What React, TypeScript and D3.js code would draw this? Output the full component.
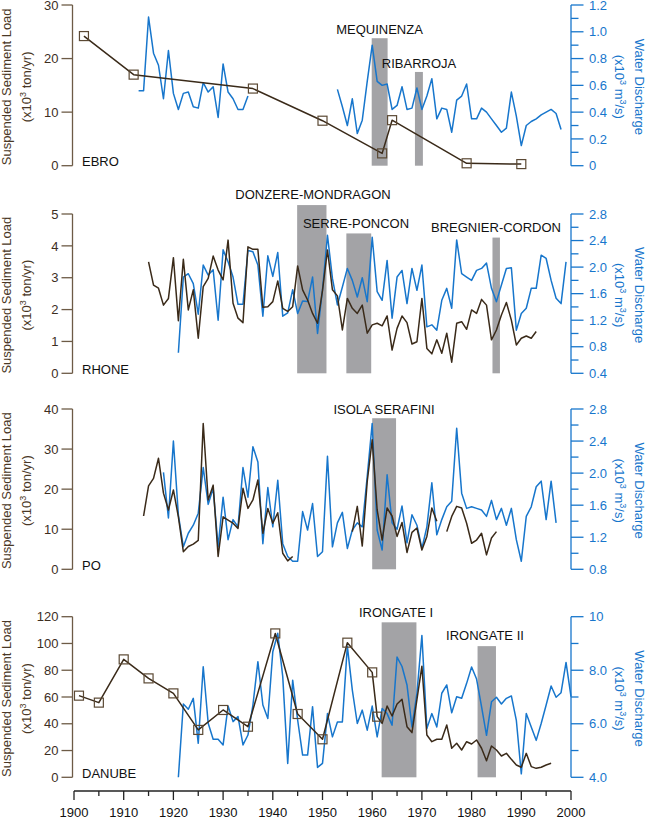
import * as d3 from "d3";

type Pt = { year: number; value: number | null };

// ---- EBRO ----
const ebroLoadYears = [1902, 1912, 1936, 1950, 1962, 1964, 1979, 1990];
const ebroLoad = [24.2, 17.0, 14.4, 8.4, 2.3, 8.5, 0.45, 0.3];
const ebroFlowEarly = [
  0.56, 0.56, 1.11, 0.84, 0.75, 0.5, 0.86, 0.54, 0.42, 0.54, 0.55, 0.44, 0.43, 0.62, 0.55, 0.59, 0.36, 0.76,
  0.55, 0.5, 0.42, 0.42, 0.52,
]; // 1913-1935
const ebroFlowLate = [
  0.57, 0.44, 0.3, 0.5, 0.24, 0.34, 0.63, 0.9, 0.63, 0.6, 0.61, 0.42, 0.45, 0.59, 0.42, 0.43, 0.58, 0.42, 0.52,
  0.65, 0.35, 0.43, 0.42, 0.25, 0.49, 0.52, 0.61, 0.35, 0.35, 0.43, 0.4, 0.35, 0.3, 0.25, 0.28, 0.55, 0.37, 0.15,
  0.3, 0.33, 0.35, 0.38, 0.4, 0.42, 0.39, 0.27,
]; // 1953-1998
const ebroDams = ["MEQUINENZA", "RIBARROJA"];
const ebroDamFrom = [1959.9, 1968.6];
const ebroDamTo = [1963.1, 1970.2];
const ebroDamTop = [23.8, 17.5];

// ---- RHONE ----
const rhoneLoad = [
  3.5, 2.77, 2.67, 2.14, 2.35, 3.63, 1.65, 3.58, 1.99, 2.62,
  1.1, 2.72, 2.98, 3.68, 3.24, 2.93, 4.18, 2.2, 1.73, 1.59,
  3.97, 3.89, 3.89, 2.07, 2.09, 2.25, 2.9, 2.04, 1.94, 2.09,
  3.37, 2.62, 2.3, 1.88, 1.57, 2.6, 3.87, 2.62, 2.43, 1.36,
  2.35, 2.04, 1.88, 2.14, 1.26, 1.52, 1.57, 1.49, 1.8, 0.73,
  1.41, 1.8, 1.59, 0.92, 0.99, 2.35, 0.78, 0.61, 1.05, 0.63,
  1.26, 0.35, 1.57, 1.62, 1.38, 1.99, 1.88, 2.32, 2.14, 1.05,
  1.36, 1.83, 2.22, 1.67, 0.89, 1.1, 1.17, 1.1, 1.31,
]; // 1915-1993
const rhoneFlow = [
  0.71, 1.85, 1.9, 1.75, 1.29, 2.03, 1.88, 1.96, 1.2, 2.26,
  2.08, 1.85, 1.44, 1.44, 2.25, 2.23, 2.03, 1.26, 2.17, 1.86,
  2.22, 1.26, 1.31, 1.66, 1.3, 1.49, 1.48, 1.85, 1.0, 1.66,
  2.48, 1.83, 1.43, 1.7, 1.98, 1.8, 1.55, 1.84, 1.48, 2.45,
  1.63, 1.5, 2.1, 1.23, 1.85, 1.95, 1.45, 1.98, 1.65, 2.03,
  1.1, 1.13, 1.05, 1.5, 1.68, 1.38, 2.41, 1.9, 1.85, 1.8,
  1.95, 1.98, 2.06, 1.68, 1.48, 1.73, 1.98, 1.99, 1.05, 1.3,
  1.38, 1.68, 1.68, 2.18, 2.13, 1.8, 1.53, 1.45, 2.08,
]; // 1921-1999
const rhoneDams = ["DONZERE-MONDRAGON", "SERRE-PONCON", "BREGNIER-CORDON"];
const rhoneDamFrom = [1944.9, 1954.8, 1984.2];
const rhoneDamTo = [1950.8, 1959.8, 1985.7];
const rhoneDamTop = [5.28, 4.39, 4.26];

// ---- PO ----
const poLoad = [
  13.3, 20.8, 22.7, 27.7, 19.0, 14.8, 19.8, 13.1, 4.4, 5.7,
  6.3, 7.2, 36.4, 17.3, 21.0, 3.2, 13.1, 12.3, 11.5, 10.2,
  20.2, 15.2, 17.3, 22.3, 9.0, 15.2, 11.5, 14.1, 4.0, 2.1,
  3.2, null, null, null, null, null, null, null, null, null,
  null, null, 9.4, 15.7, 5.8, 21.9, 32.3, 14.8, 7.3, 15.3,
  13.3, 8.2, 11.7, 4.2, 9.2, 10.3, 4.8, 8.2, 15.3, 12.0,
  null, 9.4, 13.2, 15.7, 15.3, 11.5, 6.5, 7.3, 9.0, 3.6,
  7.8, 9.4,
]; // 1914-1985
const poFlow = [
  2.01, 1.44, 2.4, 1.48, 1.08, 1.25, 1.35, 1.5, 2.07, 1.61,
  1.81, 1.08, 1.7, 1.17, 1.42, 1.33, 2.07, 1.7, 2.33, 2.14,
  1.12, 1.82, 1.33, 1.91, 1.12, 0.96, 0.9, 0.9, 1.52, 1.29,
  1.62, 0.96, 1.02, 2.21, 1.08, 1.38, 1.51, 1.06, 1.29, 1.38,
  1.33, 1.96, 2.62, 1.29, 1.04, 1.98, 1.38, 1.3, 1.59, 1.13,
  1.48, 1.35, 1.06, 1.33, 1.88, 1.23, 1.42, 1.58, 1.65, 2.56,
  1.75, 1.56, 1.58, 1.56, 1.54, 1.46, 1.66, 1.42, 1.56, 1.35,
  1.56, 1.17, 0.9, 1.46, 1.58, 1.83, 1.9, 1.42, 1.9, 1.38,
]; // 1918-1997
const poDams = ["ISOLA SERAFINI"];
const poDamFrom = [1960.0];
const poDamTo = [1964.8];
const poDamTop = [37.7];

// ---- DANUBE ----
const danubeLoadYears = [1901, 1905, 1910, 1915, 1920, 1925, 1930, 1935, 1940.5, 1945, 1950, 1955, 1960, 1961];
const danubeLoad = [61.0, 55.8, 88.1, 73.9, 62.7, 35.4, 50.3, 37.8, 107.5, 47.3, 28.4, 100.6, 78.4, 45.3];
const danubeLoadAnnual = [
  40.3, 53.3, 45.8, 54.8, 58.3, 37.8, 33.4, 58.0, 83.0,
  31.6, 26.6, 28.4, 28.4, 39.1, 21.7, 25.4, 20.4, 26.6, 24.9,
  27.9, 21.7, 12.4, 23.4, 20.4, 15.9, 17.9, 13.4, 9.2, 7.5,
  17.9, 8.0, 6.7, 7.5, 9.2, 10.5,
]; // 1962-1996
const danubeFlow = [
  4.0, 6.74, 6.54, 6.95, 5.27, 8.13, 6.02, 5.42, 5.42, 5.21,
  6.66, 6.08, 6.27, 5.21, 5.58, 6.7, 8.32, 6.7, 6.2, 8.69,
  9.38, 7.76, 4.52, 7.63, 6.14, 4.83, 4.83, 6.64, 4.37, 4.52,
  6.38, 5.51, 6.07, 6.07, 8.9, 7.26, 6.01, 6.51, 5.76, 6.66,
  5.51, 6.57, 6.38, 5.95, 8.49, 8.14, 7.45, 5.88, 7.14, 9.3,
  5.82, 6.38, 5.88, 7.14, 7.45, 6.41, 7.01, 6.95, 7.51, 8.12,
  7.67, 6.64, 5.57, 6.82, 6.99, 6.74, 6.95, 7.04, 6.13, 4.13,
  6.38, 5.88, 5.38, 6.01, 6.7, 7.41, 6.99, 7.16, 8.29, 7.01,
]; // 1921-2000
const danubeDams = ["IRONGATE I", "IRONGATE II"];
const danubeDamFrom = [1961.9, 1981.2];
const danubeDamTo = [1968.9, 1984.9];
const danubeDamTop = [115.8, 98];

const yearTicks = d3.range(1900, 2001, 10);
const yearMinorTicks = d3.range(1905, 2000, 10);

const annual = (start: number, values: (number | null)[]): Pt[] =>
  values.map((value, i) => ({ year: start + i, value }));
const paired = (years: number[], values: number[]): Pt[] => years.map((year, i) => ({ year, value: values[i] }));

const FONT = "'Liberation Sans', Arial, Helvetica, sans-serif";
const BLUE = "#1776cc";
const BROWN = "#3a2a19";
const AXIS_BROWN = "#6d5b46";
const BAR = "#a3a3a6";

const x = d3.scaleLinear().domain([1900, 2000]).range([74, 571]);
const AX_L = 72.5;
const AX_R = 571;

const panels = [
  {
    name: "EBRO",
    yL: d3.scaleLinear().domain([0, 30]).range([165.7, 5]),
    yR: d3.scaleLinear().domain([0, 1.2]).range([165.7, 5]),
    leftTicks: [0, 10, 20, 30],
    rightTicks: [0, 0.2, 0.4, 0.6, 0.8, 1.0, 1.2],
    rightMinor: [0.1, 0.3, 0.5, 0.7, 0.9, 1.1],
    fmtR: (v: number) => (v === 0 ? "0" : v.toFixed(1)),
    load: [paired(ebroLoadYears, ebroLoad)],
    squares: paired(ebroLoadYears, ebroLoad),
    flow: [annual(1913, ebroFlowEarly), annual(1953, ebroFlowLate)],
    dams: ebroDams.map((n, i) => ({ n, a: ebroDamFrom[i], b: ebroDamTo[i], top: ebroDamTop[i] })),
    labelPos: [[379.5, 34], [419, 68]],
  },
  {
    name: "RHONE",
    yL: d3.scaleLinear().domain([0, 5]).range([373.3, 214]),
    yR: d3.scaleLinear().domain([0.4, 2.8]).range([373.3, 214]),
    leftTicks: [0, 1, 2, 3, 4, 5],
    rightTicks: [0.4, 0.8, 1.2, 1.6, 2.0, 2.4, 2.8],
    rightMinor: [0.6, 1.0, 1.4, 1.8, 2.2, 2.6],
    fmtR: (v: number) => v.toFixed(1),
    load: [annual(1915, rhoneLoad)],
    squares: [] as Pt[],
    flow: [annual(1921, rhoneFlow)],
    dams: rhoneDams.map((n, i) => ({ n, a: rhoneDamFrom[i], b: rhoneDamTo[i], top: rhoneDamTop[i] })),
    labelPos: [[313, 199], [356, 228], [496, 231.5]],
  },
  {
    name: "PO",
    yL: d3.scaleLinear().domain([0, 40]).range([569.3, 409]),
    yR: d3.scaleLinear().domain([0.8, 2.8]).range([569.3, 409]),
    leftTicks: [0, 10, 20, 30, 40],
    rightTicks: [0.8, 1.2, 1.6, 2.0, 2.4, 2.8],
    rightMinor: [1.0, 1.4, 1.8, 2.2, 2.6],
    fmtR: (v: number) => v.toFixed(1),
    load: [annual(1914, poLoad)],
    squares: [] as Pt[],
    flow: [annual(1918, poFlow)],
    dams: poDams.map((n, i) => ({ n, a: poDamFrom[i], b: poDamTo[i], top: poDamTop[i] })),
    labelPos: [[384, 414]],
  },
  {
    name: "DANUBE",
    yL: d3.scaleLinear().domain([0, 120]).range([777.3, 616.7]),
    yR: d3.scaleLinear().domain([4, 10]).range([777.3, 616.7]),
    leftTicks: [0, 20, 40, 60, 80, 100, 120],
    rightTicks: [4, 6, 8, 10],
    rightMinor: [5, 7, 9],
    fmtR: (v: number) => (v >= 10 ? String(v) : v.toFixed(1)),
    load: [paired(danubeLoadYears, danubeLoad).concat(annual(1962, danubeLoadAnnual))],
    squares: paired(danubeLoadYears, danubeLoad),
    flow: [annual(1921, danubeFlow)],
    dams: danubeDams.map((n, i) => ({ n, a: danubeDamFrom[i], b: danubeDamTo[i], top: danubeDamTop[i] })),
    labelPos: [[396, 616.5], [485, 640]],
  },
];

function Panel({ p }: { p: (typeof panels)[number] }) {
  const [l0, l1] = p.yL.range();
  const cy = (l0 + l1) / 2 + 1.5;
  const lineL = d3
    .line<Pt>()
    .defined((d) => d.value != null)
    .x((d) => x(d.year))
    .y((d) => p.yL(d.value as number));
  const lineR = d3
    .line<Pt>()
    .defined((d) => d.value != null)
    .x((d) => x(d.year))
    .y((d) => p.yR(d.value as number));
  return (
    <g>
      {p.dams.map((d) => (
        <rect
          key={d.n}
          x={x(d.a)}
          width={x(d.b) - x(d.a)}
          y={p.yL(d.top)}
          height={p.yL(0) - p.yL(d.top)}
          fill={BAR}
        />
      ))}
      {p.flow.map((s, i) => (
        <path key={"f" + i} d={lineR(s) ?? ""} fill="none" stroke={BLUE} strokeWidth={1.5} strokeLinejoin="round" />
      ))}
      {p.load.map((s, i) => (
        <path key={"l" + i} d={lineL(s) ?? ""} fill="none" stroke={BROWN} strokeWidth={1.5} strokeLinejoin="round" />
      ))}
      {p.squares.map((d, i) => (
        <rect
          key={"s" + i}
          x={x(d.year) - 4.5}
          y={p.yL(d.value as number) - 4.5}
          width={9}
          height={9}
          fill="none"
          stroke="#5b4934"
          strokeWidth={1.2}
        />
      ))}

      {/* left axis */}
      <line x1={AX_L} x2={AX_L} y1={l0} y2={l1} stroke={AXIS_BROWN} strokeWidth={1.3} />
      {p.leftTicks.map((t) => (
        <g key={"lt" + t}>
          <line x1={AX_L - 11} x2={AX_L} y1={p.yL(t)} y2={p.yL(t)} stroke={AXIS_BROWN} strokeWidth={1.3} />
          <text x={AX_L - 14} y={p.yL(t)} dy="0.36em" textAnchor="end" fontSize={13} fill="#3d2e1f">
            {t}
          </text>
        </g>
      ))}
      <text
        transform={`translate(10.8,${cy}) rotate(-90)`}
        textAnchor="middle"
        fontSize={13}
        fill="#4a3826"
      >
        Suspended Sediment Load
      </text>
      <text transform={`translate(30.5,${cy}) rotate(-90)`} textAnchor="middle" fontSize={13} fill="#4a3826">
        (x10<tspan fontSize={9} dy={-5}>3</tspan>
        <tspan dy={5}> ton/yr)</tspan>
      </text>

      {/* right axis */}
      <line x1={AX_R} x2={AX_R} y1={p.yR.range()[0]} y2={p.yR.range()[1]} stroke={BLUE} strokeWidth={1.3} />
      {p.rightTicks.map((t) => (
        <g key={"rt" + t}>
          <line x1={AX_R} x2={AX_R + 12.5} y1={p.yR(t)} y2={p.yR(t)} stroke={BLUE} strokeWidth={1.3} />
          <text x={AX_R + 18} y={p.yR(t)} dy="0.36em" fontSize={13} fill={BLUE}>
            {p.fmtR(t)}
          </text>
        </g>
      ))}
      {p.rightMinor.map((t) => (
        <line key={"rm" + t} x1={AX_R} x2={AX_R + 7.5} y1={p.yR(t)} y2={p.yR(t)} stroke={BLUE} strokeWidth={1.3} />
      ))}
      <text transform={`translate(635,${cy}) rotate(90)`} textAnchor="middle" fontSize={13} fill={BLUE}>
        Water Discharge
      </text>
      <text transform={`translate(614.5,${cy}) rotate(90)`} textAnchor="middle" fontSize={13} fill={BLUE}>
        (x10<tspan fontSize={9} dy={-5}>3</tspan>
        <tspan dy={5}> m</tspan>
        <tspan fontSize={9} dy={-5}>3</tspan>
        <tspan dy={5}>/s)</tspan>
      </text>

      {/* labels */}
      <text x={82} y={p.yL(0) + 0.3} fontSize={13} fill="#111">
        {p.name}
      </text>
      {p.dams.map((d, i) => (
        <text key={"dl" + i} x={p.labelPos[i][0]} y={p.labelPos[i][1]} textAnchor="middle" fontSize={13} fill="#111">
          {d.n}
        </text>
      ))}
    </g>
  );
}

export default function App() {
  return (
    <svg
      width={646}
      height={818}
      style={{ position: "absolute", left: 0, top: 0, background: "#fff", fontFamily: FONT }}
    >
      {panels.map((p) => (
        <Panel key={p.name} p={p} />
      ))}
      {/* year axis */}
      <line x1={x(1900)} x2={x(2000)} y1={791} y2={791} stroke="#222" strokeWidth={1.3} />
      {yearTicks.map((t) => (
        <g key={t}>
          <line x1={x(t)} x2={x(t)} y1={791} y2={800} stroke="#222" strokeWidth={1.3} />
          <text x={x(t)} y={816.5} textAnchor="middle" fontSize={13} fill="#111">
            {t}
          </text>
        </g>
      ))}
      {yearMinorTicks.map((t) => (
        <line key={"m" + t} x1={x(t)} x2={x(t)} y1={791} y2={796} stroke="#222" strokeWidth={1.3} />
      ))}
    </svg>
  );
}
